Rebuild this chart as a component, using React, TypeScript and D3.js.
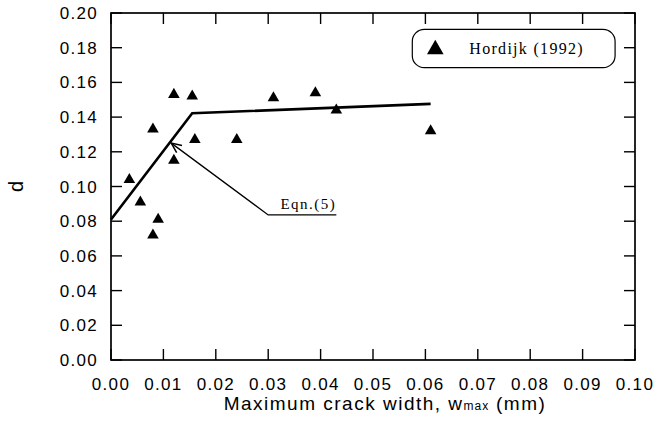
import React from "react";
import * as d3 from "d3";

// Hordijk (1992) measurements
const crackWidth = [0.0035, 0.0056, 0.008, 0.008, 0.009, 0.012, 0.012, 0.0155, 0.016, 0.024, 0.031, 0.039, 0.043, 0.061];
const dValues = [0.104, 0.091, 0.133, 0.072, 0.081, 0.153, 0.115, 0.152, 0.127, 0.127, 0.151, 0.154, 0.144, 0.132];

// Eqn.(5) bilinear fit
const fitW = [0, 0.0155, 0.061];
const fitD = [0.081, 0.1422, 0.1476];

// annotation leader: tip on the fit line, elbow, end of underline
const leaderW = [0.0115, 0.030, 0.043];
const leaderD = [0.125, 0.0836, 0.0836];

const xTicks = [0, 0.01, 0.02, 0.03, 0.04, 0.05, 0.06, 0.07, 0.08, 0.09, 0.1];
const xTickLabels = ["0.00", "0.01", "0.02", "0.03", "0.04", "0.05", "0.06", "0.07", "0.08", "0.09", "0.10"];
const yTicks = [0, 0.02, 0.04, 0.06, 0.08, 0.1, 0.12, 0.14, 0.16, 0.18, 0.2];
const yTickLabels = ["0.00", "0.02", "0.04", "0.06", "0.08", "0.10", "0.12", "0.14", "0.16", "0.18", "0.20"];

const W = 656;
const H = 425;
const margin = { top: 13, right: 21, bottom: 65, left: 111 };

const sans = "'Liberation Sans', Arial, Helvetica, sans-serif";
const serif = "'Liberation Serif', 'Times New Roman', serif";

export default function App() {
  const x = d3.scaleLinear().domain([0, 0.1]).range([margin.left, W - margin.right]);
  const y = d3.scaleLinear().domain([0, 0.2]).range([H - margin.bottom, margin.top]);
  const [x0, x1] = x.range();
  const [y0, y1] = y.range();

  const tri = d3.symbol(d3.symbolTriangle, 58)() || "";
  const triBig = d3.symbol(d3.symbolTriangle, 120)() || "";

  const fitPath = d3.line<number>().x((_, i) => x(fitW[i])).y((_, i) => y(fitD[i]))(fitD) || "";
  const leaderPath = d3.line<number>().x((_, i) => x(leaderW[i])).y((_, i) => y(leaderD[i]))(leaderD) || "";

  // open arrowhead at the tip of the leader
  const tx = x(leaderW[0]);
  const ty = y(leaderD[0]);
  const ang = Math.atan2(y(leaderD[1]) - ty, x(leaderW[1]) - tx);
  const barb = 11;
  const spread = 0.42;
  const arrow = `M${tx + barb * Math.cos(ang - spread)},${ty + barb * Math.sin(ang - spread)}L${tx},${ty}L${tx + barb * Math.cos(ang + spread)},${ty + barb * Math.sin(ang + spread)}`;

  const tick = 11;

  // legend box in data units
  const lgX0 = x(0.0575);
  const lgX1 = x(0.0962);
  const lgY0 = y(0.1906);
  const lgY1 = y(0.1685);

  return (
    <div style={{ position: "absolute", left: 0, top: 0 }}>
      <svg width={W} height={H} style={{ display: "block", background: "#fff" }}>
        {/* frame */}
        <rect x={x0} y={y1} width={x1 - x0} height={y0 - y1} fill="none" stroke="#000" strokeWidth={1.7} />

        {/* ticks, all pointing inward */}
        {xTicks.map((t, i) => (
          <g key={`xt${i}`}>
            <line x1={x(t)} x2={x(t)} y1={y0} y2={y0 - tick} stroke="#000" strokeWidth={1.4} />
            <line x1={x(t)} x2={x(t)} y1={y1} y2={y1 + tick} stroke="#000" strokeWidth={1.4} />
            <text
              x={x(t)}
              y={y0 + 30}
              textAnchor="middle"
              fontFamily={sans}
              fontSize={17}
              letterSpacing={1.3}
              fill="#000"
            >
              {xTickLabels[i]}
            </text>
          </g>
        ))}
        {yTicks.map((t, i) => (
          <g key={`yt${i}`}>
            <line x1={x0} x2={x0 + tick} y1={y(t)} y2={y(t)} stroke="#000" strokeWidth={1.4} />
            <line x1={x1} x2={x1 - tick} y1={y(t)} y2={y(t)} stroke="#000" strokeWidth={1.4} />
            <text
              x={x0 - 13}
              y={y(t) + 6}
              textAnchor="end"
              fontFamily={sans}
              fontSize={17}
              letterSpacing={1.3}
              fill="#000"
            >
              {yTickLabels[i]}
            </text>
          </g>
        ))}

        {/* axis titles */}
        <text
          x={(x0 + x1) / 2 + 12}
          y={y0 + 50}
          textAnchor="middle"
          fontFamily={sans}
          fontSize={19}
          letterSpacing={1.5}
          fill="#000"
        >
          Maximum crack width, w
          <tspan fontSize={12} letterSpacing={1}>max</tspan>
          <tspan> (mm)</tspan>
        </text>
        <text
          transform={`translate(${23},${(y0 + y1) / 2}) rotate(-90)`}
          textAnchor="middle"
          fontFamily={sans}
          fontSize={20}
          fill="#000"
        >
          d
        </text>

        {/* Eqn.(5) fit */}
        <path d={fitPath} fill="none" stroke="#000" strokeWidth={2.6} strokeLinejoin="miter" />

        {/* annotation */}
        <path d={leaderPath} fill="none" stroke="#000" strokeWidth={1.3} />
        <path d={arrow} fill="none" stroke="#000" strokeWidth={1.5} />
        <text
          x={x(leaderW[2])}
          y={y(leaderD[2]) - 6}
          textAnchor="end"
          fontFamily={serif}
          fontSize={15}
          letterSpacing={1.5}
          fill="#000"
        >
          Eqn.(5)
        </text>

        {/* data */}
        {crackWidth.map((w, i) => (
          <path key={`p${i}`} d={tri} transform={`translate(${x(w)},${y(dValues[i])})`} fill="#000" />
        ))}

        {/* legend */}
        <rect
          x={lgX0}
          y={lgY0}
          width={lgX1 - lgX0}
          height={lgY1 - lgY0}
          rx={12}
          ry={12}
          fill="#fff"
          stroke="#000"
          strokeWidth={1.2}
        />
        <path d={triBig} transform={`translate(${lgX0 + 23},${(lgY0 + lgY1) / 2 + 1})`} fill="#000" />
        <text
          x={lgX0 + 57}
          y={(lgY0 + lgY1) / 2 + 6}
          fontFamily={serif}
          fontSize={16}
          letterSpacing={1.3}
          fill="#000"
        >
          Hordijk (1992)
        </text>
      </svg>
    </div>
  );
}
